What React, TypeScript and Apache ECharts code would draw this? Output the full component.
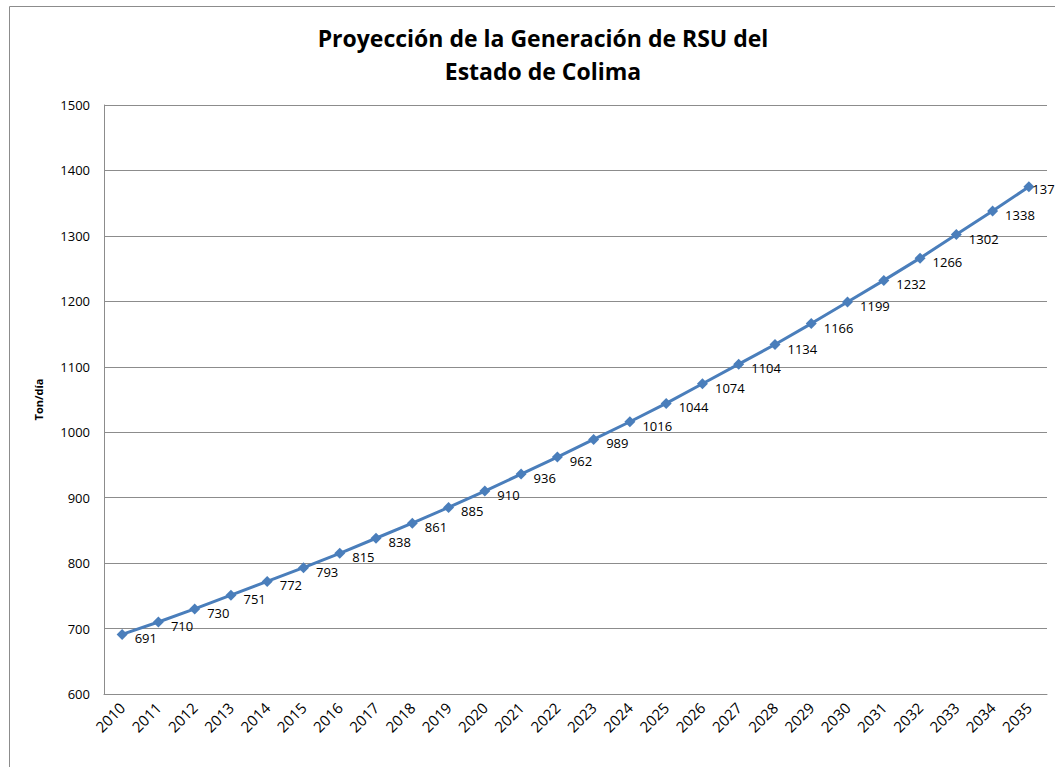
import React, { useEffect, useRef } from "react";
import * as echarts from "echarts";

const years = ["2010","2011","2012","2013","2014","2015","2016","2017","2018","2019","2020","2021","2022","2023","2024","2025","2026","2027","2028","2029","2030","2031","2032","2033","2034","2035"];
const values = [691,710,730,751,772,793,815,838,861,885,910,936,962,989,1016,1044,1074,1104,1134,1166,1199,1232,1266,1302,1338,1375];
const titleLines = ["Proyección de la Generación de RSU del", "Estado de Colima"];
const yName = "Ton/día";

export default function App() {
  const ref = useRef<HTMLDivElement>(null);
  useEffect(() => {
    const chart = echarts.init(ref.current!, null, { renderer: "svg" });
    const font = "Open Sans, Liberation Sans, sans-serif";
    const seriesData = values.map((v, i) =>
      i === values.length - 1 ? { value: v, label: { offset: [-7, 2] } } : v
    );
    chart.setOption({
      animation: false,
      backgroundColor: "#ffffff",
      title: {
        text: titleLines.join("\n"),
        left: 538,
        top: 16,
        textAlign: "center",
        textStyle: { fontFamily: font, fontWeight: "bold", fontSize: 23, lineHeight: 33, color: "#000" },
      },
      graphic: [
        { type: "rect", shape: { x: 9.5, y: 6.5, width: 1100, height: 800 }, style: { fill: "none", stroke: "#8c8c8c", lineWidth: 1 }, silent: true },
      ],
      grid: { left: 104, right: 8, top: 105, bottom: 73, containLabel: false },
      xAxis: {
        type: "category",
        data: years,
        boundaryGap: true,
        axisLine: { lineStyle: { color: "#8c8c8c", width: 1 } },
        axisTick: { show: false },
        axisLabel: { rotate: 45, color: "#000", fontFamily: font, fontSize: 15, margin: 11, interval: 0 },
      },
      yAxis: {
        type: "value",
        min: 600,
        max: 1500,
        interval: 100,
        name: yName,
        nameLocation: "middle",
        nameGap: 60,
        nameRotate: 90,
        nameTextStyle: { fontFamily: font, fontWeight: "bold", fontSize: 11, color: "#000" },
        axisLine: { show: true, lineStyle: { color: "#8c8c8c", width: 1 } },
        axisTick: { show: false },
        axisLabel: { color: "#000", fontFamily: font, fontSize: 13, margin: 14, formatter: (v: number) => String(v) },
        splitLine: { lineStyle: { color: "#8c8c8c", width: 1 } },
      },
      series: [
        {
          type: "line",
          data: seriesData,
          symbol: "diamond",
          symbolSize: 11,
          lineStyle: { color: "#4a7ebb", width: 3 },
          itemStyle: { color: "#4a7ebb" },
          label: {
            show: true,
            position: "right",
            offset: [2, 4],
            color: "#000",
            fontFamily: font,
            fontSize: 13,
          },
        },
      ],
    });
    return () => chart.dispose();
  }, []);
  return <div ref={ref} style={{ position: "absolute", left: 0, top: 0, width: 1055, height: 767 }} />;
}
